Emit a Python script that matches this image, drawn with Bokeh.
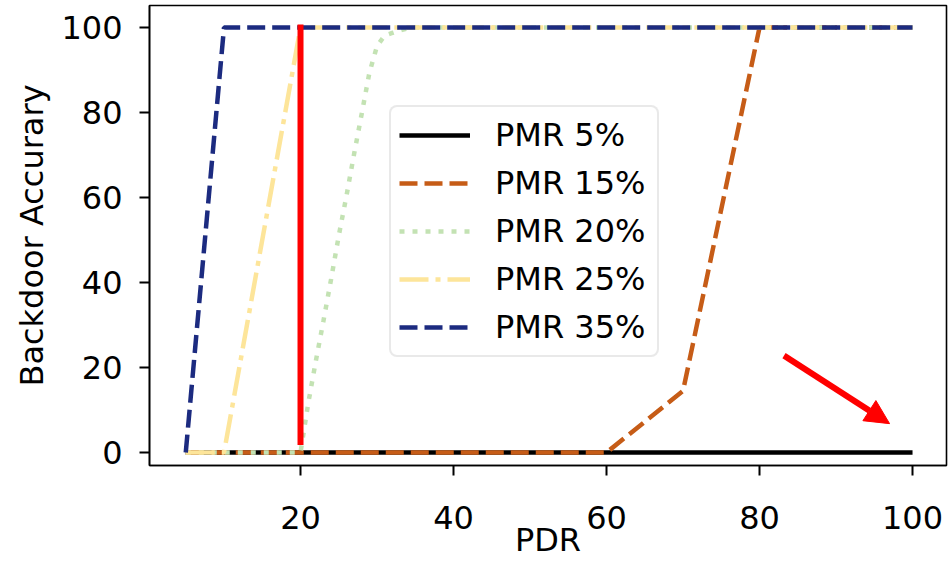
from bokeh.plotting import figure
from bokeh.models import Range1d, FixedTicker, Legend, LegendItem, Arrow, NormalHead
from bokeh.embed import file_html
from bokeh.resources import INLINE

# ---- data ----
pdr = [5, 10, 20, 30, 40, 50, 60, 70, 80, 90, 100]
pmr5 = [0, 0, 0, 0, 0, 0, 0, 0, 0, 0, 0]
pmr15 = [0, 0, 0, 0, 0, 0, 0, 14.5, 100, 100, 100]
pmr25 = [0, 0, 100, 100, 100, 100, 100, 100, 100, 100, 100]
pmr35 = [0, 100, 100, 100, 100, 100, 100, 100, 100, 100, 100]
pdr_20 = [5, 10, 20, 21, 22, 23, 24, 25, 26, 27, 28, 29, 30, 31, 32, 33, 34, 35,
          40, 50, 60, 70, 80, 90, 100]
pmr20 = [0, 0, 0, 11.5, 21.5, 31, 40.8, 51, 60.3, 70.2, 79.7, 89.3, 95.6, 98.1,
         98.7, 99.3, 99.8, 100, 100, 100, 100, 100, 100, 100, 100]

labels = ["PMR 5%", "PMR 15%", "PMR 20%", "PMR 25%", "PMR 35%"]
colors = ["#000000", "#c65c17", "#c3e2b3", "#fde59a", "#1c2b80"]
dashes = ["solid", "18 7", "5 8", "29 7 5 7", "18 7"]

x_ticks = [20, 40, 60, 80, 100]
y_ticks = [0, 20, 40, 60, 80, 100]

marker_x = [20]
marker_y0 = [2.5]
marker_y1 = [100]
arrow_from = (83.2, 22.8)
arrow_to = (97.0, 6.8)

FONT = "DejaVu Sans"
FS = "32px"

p = figure(width=948, height=561, output_backend="svg", toolbar_location=None,
           x_range=Range1d(0.26, 104.44), y_range=Range1d(-3.05, 105.16),
           min_border_left=149, min_border_right=2, min_border_top=5,
           min_border_bottom=95)

p.xgrid.visible = False
p.ygrid.visible = False
p.outline_line_color = "black"
p.outline_line_width = 1.6
p.background_fill_color = "white"
p.border_fill_color = "white"

series = [(pdr, pmr5), (pdr, pmr15), (pdr_20, pmr20), (pdr, pmr25), (pdr, pmr35)]
renderers = []
for (xs, ys), c, d in zip(series, colors, dashes):
    r = p.line(xs, ys, line_color=c, line_width=4.5, line_dash=d)
    renderers.append(r)

p.segment(x0=marker_x, y0=marker_y0, x1=marker_x, y1=marker_y1,
          line_color="#ff0000", line_width=6, line_cap="square")

p.add_layout(Arrow(x_start=arrow_from[0], y_start=arrow_from[1],
                   x_end=arrow_to[0], y_end=arrow_to[1],
                   line_color="#ff0000", line_width=6,
                   end=NormalHead(size=24, fill_color="#ff0000",
                                  line_color="#ff0000", line_width=1)))

for ax in (p.xaxis[0], p.yaxis[0]):
    ax.major_label_text_font = FONT
    ax.major_label_text_font_size = FS
    ax.major_label_text_color = "black"
    ax.axis_label_text_font = FONT
    ax.axis_label_text_font_size = FS
    ax.axis_label_text_font_style = "normal"
    ax.axis_label_text_color = "black"
    ax.major_tick_out = 10
    ax.major_tick_in = 0
    ax.minor_tick_out = 0
    ax.minor_tick_in = 0
    ax.major_tick_line_width = 2
    ax.axis_line_width = 1.6

p.xaxis.ticker = FixedTicker(ticks=x_ticks)
p.yaxis.ticker = FixedTicker(ticks=y_ticks)
p.xaxis.axis_label = "PDR"
p.yaxis.axis_label = "Backdoor Accurary"
p.xaxis.major_label_standoff = 30
p.xaxis.axis_label_standoff = -11
p.yaxis.major_label_standoff = 17
p.yaxis.axis_label_standoff = 7

legend = Legend(items=[LegendItem(label=l, renderers=[r]) for l, r in zip(labels, renderers)],
                location=(240, 108))
legend.label_text_font = FONT
legend.label_text_font_size = FS
legend.label_text_color = "black"
legend.glyph_width = 71
legend.glyph_height = 40
legend.spacing = 8
legend.padding = 8
legend.margin = 0
legend.label_standoff = 25
legend.label_width = 154
legend.border_line_color = "#d3d3d3"
legend.border_line_width = 2.5
legend.background_fill_color = "white"
legend.background_fill_alpha = 1.0
try:
    legend.border_radius = 8
except Exception:
    pass
p.add_layout(legend)

open("out.html", "w").write(file_html(p, INLINE))
